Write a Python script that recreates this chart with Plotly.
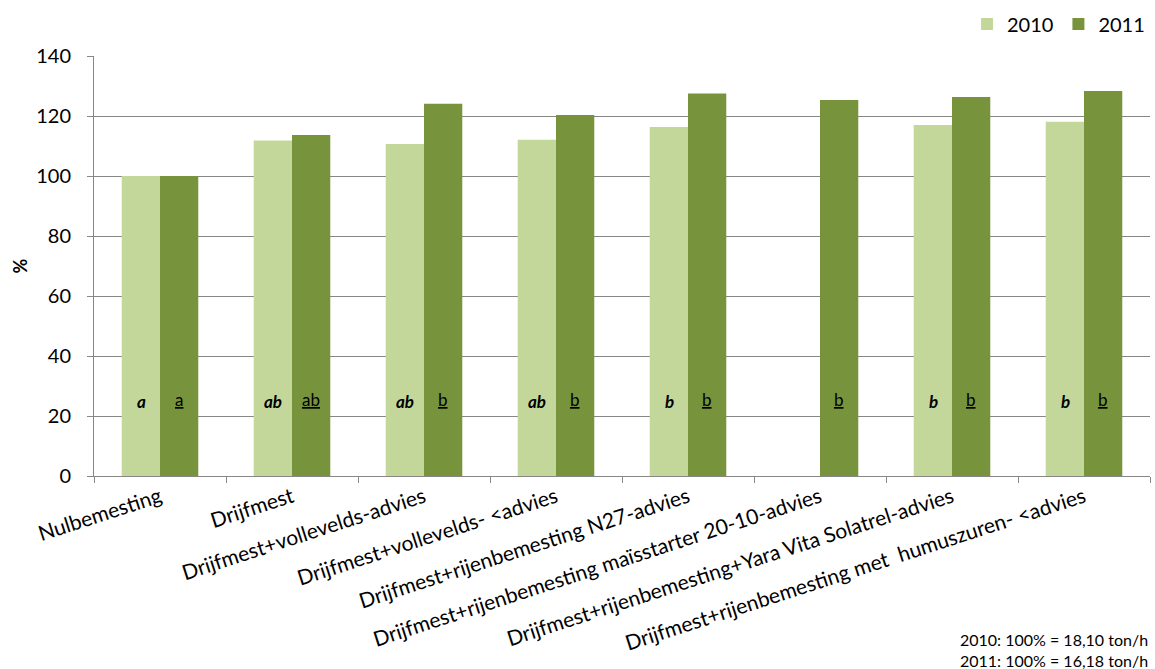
import plotly.graph_objects as go

categories = [
    "Nulbemesting",
    "Drijfmest",
    "Drijfmest+vollevelds-advies",
    "Drijfmest+vollevelds- <advies",
    "Drijfmest+rijenbemesting N27-advies",
    "Drijfmest+rijenbemesting maïsstarter 20-10-advies",
    "Drijfmest+rijenbemesting+Yara Vita Solatrel-advies",
    "Drijfmest+rijenbemesting met  humuszuren- <advies",
]
values_2010 = [100, 111.8, 110.7, 112.1, 116.3, None, 117.0, 118.1]
values_2011 = [100, 113.7, 124.1, 120.3, 127.5, 125.3, 126.3, 128.3]
letters_2010 = ["a", "ab", "ab", "ab", "b", "", "b", "b"]
letters_2011 = ["a", "ab", "b", "b", "b", "b", "b", "b"]
letter_y = 25
y_ticks = [0, 20, 40, 60, 80, 100, 120, 140]
note_lines = ["2010: 100% = 18,10 ton/h", "2011: 100% = 16,18 ton/h"]

FONT = "Lato, Carlito, Calibri, sans-serif"
C2010 = "#C4D79B"
C2011 = "#77933C"

fig = go.Figure()
fig.add_trace(go.Bar(name="2010", x=categories, y=values_2010,
                     marker=dict(color=C2010, line=dict(width=0))))
fig.add_trace(go.Bar(name="2011", x=categories, y=values_2011,
                     marker=dict(color=C2011, line=dict(width=0))))

annotations = []
for cat, l10, l11 in zip(categories, letters_2010, letters_2011):
    if l10:
        annotations.append(dict(x=cat, y=letter_y, xref="x", yref="y", xshift=-19,
                                text="<b><i>%s</i></b>" % l10, showarrow=False,
                                font=dict(family=FONT, size=17, color="black")))
    if l11:
        annotations.append(dict(x=cat, y=letter_y, xref="x", yref="y", xshift=19, yshift=2,
                                text="<u>%s</u>" % l11, showarrow=False,
                                font=dict(family=FONT, size=17, color="black")))

annotations.append(dict(x=1.0, y=-0.362, xref="paper", yref="paper",
                        xanchor="right", yanchor="top", align="left",
                        text="<br>".join(note_lines), showarrow=False,
                        font=dict(family=FONT, size=16, color="black")))

fig.update_layout(
    width=1155, height=669,
    margin=dict(l=94, r=5, t=54, b=193),
    paper_bgcolor="white", plot_bgcolor="white",
    barmode="group", bargap=0.42, bargroupgap=0,
    font=dict(family=FONT, size=19, color="black"),
    legend=dict(orientation="h", x=1.0, xanchor="right", y=1.076, yanchor="middle",
                font=dict(family=FONT, size=20), itemwidth=30,
                traceorder="normal"),
    annotations=annotations,
    xaxis=dict(tickangle=-18, showline=True, linecolor="#878787", linewidth=1,
               ticks="outside", tickson="boundaries", ticklen=6, tickcolor="#878787",
               automargin=False,
               tickfont=dict(family=FONT, size=21)),
    yaxis=dict(range=[0, 140], tickvals=y_ticks, showgrid=True, gridcolor="#878787",
               gridwidth=1, showline=True, linecolor="#878787", ticks="outside",
               ticklen=6, tickcolor="#878787", zeroline=False,
               ticklabelstandoff=12, automargin=False,
               tickfont=dict(family=FONT, size=20),
               title=dict(text="<b>%</b>", font=dict(family=FONT, size=18), standoff=3)),
)

fig.write_html("out.html")
